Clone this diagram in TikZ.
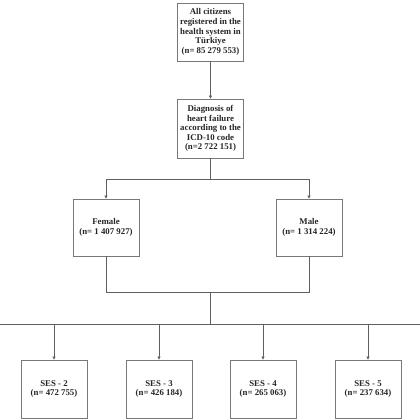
\documentclass[tikz,border=0pt]{standalone}
\usepackage{fontspec}
\setmainfont{Liberation Serif}
\usetikzlibrary{arrows.meta}
\definecolor{ln}{RGB}{95,95,95}
\definecolor{bx}{RGB}{120,120,120}
\tikzset{
  box/.style={draw=bx, line width=0.8pt, fill=white, minimum width=66pt, minimum height=58pt,
    align=center, inner sep=1pt, font=\fontsize{8.8}{9.6}\selectfont\bfseries, text=black!85},
  conn/.style={draw=ln, line width=0.9pt},
  arr/.style={conn, -{Triangle[length=3pt,width=3pt]}}
}
\begin{document}
\begin{tikzpicture}[x=1pt,y=1pt]
\useasboundingbox (0,0) rectangle (420,420);
\fill[white] (0,0) rectangle (420,420);
\node[box] (all) at (210.5,388) {All citizens\\registered in the\\health system in\\Türkiye\\(n= 85 279 553)};
\node[box, minimum height=59pt] (hf) at (210.5,291.5) {Diagnosis of\\heart failure\\according to the\\ICD-10 code\\(n=2 722 151)};
\node[box, minimum height=57pt] (f) at (106,192.5) {Female\\(n= 1 407 927)};
\node[box, minimum height=57pt] (m) at (309,192.5) {Male\\(n= 1 314 224)};
\node[box] (s2) at (54,31) {SES - 2\\(n= 472 755)};
\node[box] (s3) at (159,31) {SES - 3\\(n= 426 184)};
\node[box] (s4) at (263,31) {SES - 4\\(n= 265 063)};
\node[box] (s5) at (368,31) {SES - 5\\(n= 237 634)};
\coordinate (j1) at (210.5,241);
\coordinate (j2) at (210.5,128);
\coordinate (j3) at (210.5,96);
\coordinate (L) at (0,96);
\coordinate (R) at (420,96);
\draw[arr] (all.south) -- (hf.north);
\draw[conn] (hf.south) -- (j1);
\draw[arr] (j1) -| (f.north);
\draw[arr] (j1) -| (m.north);
\draw[conn] (f.south) |- (j2);
\draw[conn] (m.south) |- (j2);
\draw[conn] (j2) -- (j3);
\draw[conn] (L) -- (R);
\draw[arr] (s2.north |- L) -- (s2.north);
\draw[arr] (s3.north |- L) -- (s3.north);
\draw[arr] (s4.north |- L) -- (s4.north);
\draw[arr] (s5.north |- L) -- (s5.north);
\end{tikzpicture}
\end{document}
